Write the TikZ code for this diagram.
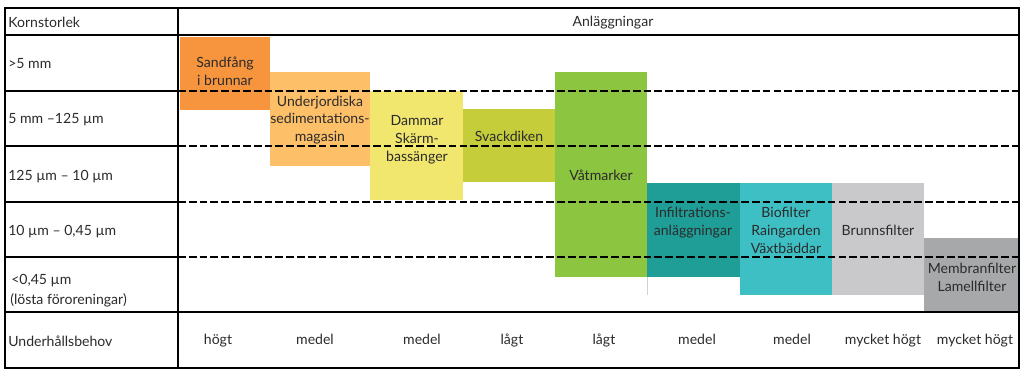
\documentclass[tikz,border=0pt]{standalone}
\usepackage{fontspec}
\setmainfont{Lato}
\definecolor{txt}{HTML}{2B2B2B}
\definecolor{sandc}{HTML}{F7953F}
\definecolor{underc}{HTML}{FDC068}
\definecolor{dammc}{HTML}{F1E66E}
\definecolor{svackc}{HTML}{C6CD3B}
\definecolor{vatc}{HTML}{8CC540}
\definecolor{infc}{HTML}{1F9E97}
\definecolor{bioc}{HTML}{3DBFC4}
\definecolor{brunnc}{HTML}{C9C9CB}
\definecolor{membc}{HTML}{A7A8AA}

\begin{document}
\begin{tikzpicture}[x=0.025cm,y=-0.025cm]
\tikzset{every node/.style={font=\fontsize{10}{12.8}\selectfont, text=txt, inner sep=0pt},
        rowlbl/.style={anchor=base west},
        boxlbl/.style={anchor=base, align=center},
        rule/.style={line width=1.3pt},
        sizesep/.style={line width=1.2pt, dash pattern=on 5.5pt off 2.2pt}}
        \useasboundingbox (0,0) rectangle (1024,380);

        \fill[sandc] (180,37) rectangle (270,110);
        \fill[underc] (270,72) rectangle (370,166);
        \fill[dammc] (370,91) rectangle (463,200);
        \fill[svackc] (463,109) rectangle (555,182);
        \fill[vatc] (555,72) rectangle (647,277);
        \fill[infc] (647,183) rectangle (740,277);
        \fill[bioc] (740,183) rectangle (832,295);
        \fill[brunnc] (832,183) rectangle (924,295);
        \fill[membc] (924,238) rectangle (1019,312);
        \draw[gray!35, line width=0.4pt] (647,277) -- (647,295);

        \draw[sizesep] (178,91) -- (1019,91);
        \draw[sizesep] (178,146) -- (1019,146);
        \draw[sizesep] (178,202) -- (1019,202);
        \draw[sizesep] (178,257) -- (1019,257);

        \draw[rule] (5,8) rectangle (1019,368);
        \draw[rule] (178,8) -- (178,368);
        \draw[rule] (5,35) -- (1019,35);
        \draw[rule] (5,312) -- (1019,312);
        \draw[rule] (5,91) -- (178,91);
        \draw[rule] (5,146) -- (178,146);
        \draw[rule] (5,202) -- (178,202);
        \draw[rule] (5,257) -- (178,257);

        \node[rowlbl] (korn) at (8,28) {Kornstorlek};
        \node[anchor=base] (anl) at (613,27) {Anläggningar};
        \node[rowlbl] (size1) at (8,69) {>5 mm};
        \node[rowlbl] (size2) at (8,124) {5 mm –125 µm};
        \node[rowlbl] (size3) at (8,180) {125 µm – 10 µm};
        \node[rowlbl] (size4) at (8,235) {10 µm – 0,45 µm};
        \node[rowlbl] (size5) at (11,284) {<0,45 µm};
        \node[rowlbl] (size5b) at (10,304) {(lösta föroreningar)};
        \node[rowlbl] (behov) at (8,346) {Underhållsbehov};

        \node[boxlbl] (sand) at (225,86) {Sandfång\\i brunnar};
        \node[boxlbl] (under) at (320,142) {Underjordiska\\sedimentations-\\magasin};
        \node[boxlbl] (damm) at (417,161) {Dammar\\Skärm-\\bassänger};
        \node[boxlbl] (svack) at (509,142) {Svackdiken};
        \node[boxlbl] (vat) at (601,180) {Våtmarker};
        \node[boxlbl] (inf) at (693,235) {Infiltrations-\\anläggningar};
        \node[boxlbl] (bio) at (786,253) {Biofilter\\Raingarden\\Växtbäddar};
        \node[boxlbl] (brunn) at (878,235) {Brunnsfilter};
        \node[boxlbl] (memb) at (972,291) {Membranfilter\\Lamellfilter};

        \node[anchor=base] (h1) at (218,344) {högt};
        \node[anchor=base] (h2) at (315,344) {medel};
        \node[anchor=base] (h3) at (422,344) {medel};
        \node[anchor=base] (h4) at (512,344) {lågt};
        \node[anchor=base] (h5) at (604,344) {lågt};
        \node[anchor=base] (h6) at (697,344) {medel};
        \node[anchor=base] (h7) at (792,344) {medel};
        \node[anchor=base] (h8) at (883,344) {mycket högt};
        \node[anchor=base] (h9) at (975,344) {mycket högt};
\end{tikzpicture}
\end{document}
